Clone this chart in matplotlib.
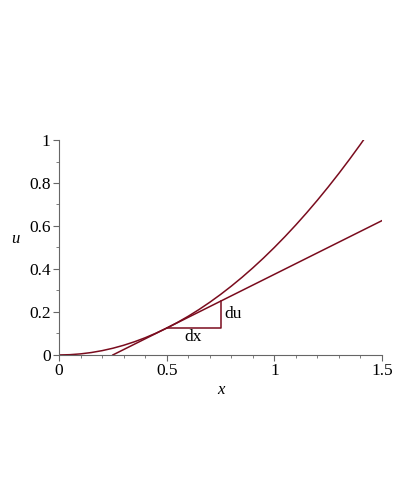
import matplotlib
matplotlib.use("Agg")
import matplotlib.pyplot as plt
from matplotlib.ticker import MultipleLocator

# curve u(x), values
curve_x = [0.0, 0.05, 0.1, 0.15, 0.2, 0.25, 0.3, 0.35, 0.4, 0.45, 0.5, 0.55, 0.6,
           0.65, 0.7, 0.75, 0.8, 0.85, 0.9, 0.95, 1.0, 1.05, 1.1, 1.15, 1.2, 1.25,
           1.3, 1.35, 1.4, 1.414]
curve_u = [0.0, 0.00125, 0.005, 0.01125, 0.02, 0.03125, 0.045, 0.06125, 0.08, 0.10125,
           0.125, 0.15125, 0.18, 0.21125, 0.245, 0.28125, 0.32, 0.36125, 0.405, 0.45125,
           0.5, 0.55125, 0.605, 0.66125, 0.72, 0.78125, 0.845, 0.91125, 0.98, 1.0]

# tangent line
tangent_x = [0.25, 1.5]
tangent_u = [0.0, 0.625]

# dx / du triangle
tri_x = [0.5, 0.75, 0.75]
tri_u = [0.125, 0.125, 0.25]

color = "#7a0c1e"
plt.rcParams["font.family"] = ["Liberation Serif", "DejaVu Serif"]

fig = plt.figure(figsize=(4.0, 4.93), dpi=100)
ax = fig.add_axes([0.1475, 0.28, 0.8075, 0.436])

ax.plot(curve_x, curve_u, color=color, lw=1.1)
ax.plot(tangent_x, tangent_u, color=color, lw=1.1)
ax.plot(tri_x, tri_u, color=color, lw=1.1)
ax.text(0.77, 0.19, "du", fontsize=12.5, va="center", ha="left")
ax.text(0.625, 0.082, "dx", fontsize=12.5, va="center", ha="center")

ax.set_xlim(0, 1.5)
ax.set_ylim(0, 1)
ax.spines["top"].set_visible(False)
ax.spines["right"].set_visible(False)
for s in ("left", "bottom"):
    ax.spines[s].set_color("#666666")
ax.xaxis.set_major_locator(MultipleLocator(0.5))
ax.xaxis.set_minor_locator(MultipleLocator(0.1))
ax.yaxis.set_major_locator(MultipleLocator(0.2))
ax.yaxis.set_minor_locator(MultipleLocator(0.1))
ax.set_xticks([0, 0.5, 1, 1.5])
ax.set_xticklabels(["0", "0.5", "1", "1.5"])
ax.set_yticks([0, 0.2, 0.4, 0.6, 0.8, 1])
ax.set_yticklabels(["0", "0.2", "0.4", "0.6", "0.8", "1"])
ax.tick_params(which="major", length=4, color="#666666", labelsize=12.5, pad=2)
ax.tick_params(which="minor", length=2.5, color="#666666")
ax.set_xlabel("x", fontstyle="italic", fontsize=12, labelpad=2)
ax.set_ylabel("u", fontstyle="italic", fontsize=12, rotation=0, labelpad=10)

fig.savefig("out.png", dpi=100)
